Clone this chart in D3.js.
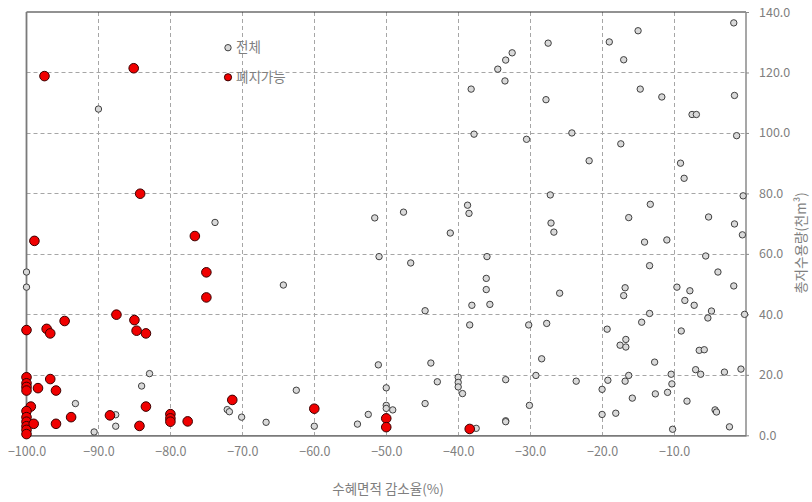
<!DOCTYPE html>
<html>
<head>
<meta charset="utf-8">
<script src="https://cdn.jsdelivr.net/npm/d3@7"></script>
<style>
  html, body { margin: 0; padding: 0; background: #fff; }
  svg { display: block; }
  text { font-family: "Noto Sans CJK KR", "Noto Sans", sans-serif; }
</style>
</head>
<body>
<svg id="chart" width="812" height="502"></svg>
<script>
// 수혜면적 감소율(%) vs 총저수용량(천m³)
const allPoints = [
  [-90.0,107.9],[-73.8,70.4],[-100,54.0],[-100,49.0],[-82.9,20.4],[-84.0,16.3],[-93.2,10.5],
  [-87.6,6.8],[-72.1,8.5],[-71.8,7.8],[-70.1,6.0],[-66.7,4.3],[-87.6,3.0],[-90.6,1.1],
  [-32.5,126.5],[-33.4,124.1],[-34.5,121.1],[-33.5,117.2],[-38.2,114.5],[-37.8,99.6],[-30.5,97.9],
  [-51.6,71.9],[-47.6,73.8],[-38.7,76.1],[-38.5,73.4],[-41.1,66.9],
  [-51.0,59.1],[-46.6,57.0],[-36.0,59.1],[-64.3,49.7],[-36.1,51.9],[-36.1,48.2],[-38.1,43.0],
  [-35.6,43.3],[-44.6,41.2],[-38.4,36.5],[-30.2,36.5],[-51.1,23.3],[-43.8,23.9],[-40.0,19.2],
  [-40.0,17.5],[-40.0,16.0],[-39.4,13.8],[-42.9,17.7],[-33.4,18.4],[-29.2,19.8],[-28.4,25.3],
  [-62.5,14.9],[-50.0,15.7],[-50.0,9.9],[-50.0,8.9],[-49.1,8.4],[-44.6,10.5],[-52.5,6.9],
  [-54.0,3.7],[-60.0,3.0],[-37.5,2.3],[-33.4,4.8],[-33.4,4.5],[-30.1,9.9],
  [-27.5,129.7],[-19.0,130.1],[-15.0,133.8],[-17.0,124.2],[-1.7,136.4],[-27.8,111.0],[-14.7,114.5],
  [-11.7,111.9],[-1.6,112.4],[-7.5,106.1],[-6.9,106.1],[-24.2,100.0],[-1.3,99.1],[-17.4,96.4],
  [-21.8,90.8],[-9.1,90.0],[-8.6,85.0],[-27.2,79.5],[-0.4,79.2],[-13.3,76.4],[-16.3,72.0],
  [-5.2,72.2],[-27.1,70.2],[-1.6,69.9],[-26.7,67.2],[-0.5,66.3],[-14.1,63.9],[-11.0,64.6],
  [-5.6,59.3],[-13.4,56.1],[-3.9,54.0],[-25.9,47.0],[-16.8,48.8],[-17.0,46.2],[-9.6,49.0],
  [-7.8,47.8],[-1.7,49.4],[-8.5,44.6],[-7.2,43.0],[-4.8,41.1],[-5.3,38.8],[-0.2,40.0],
  [-13.4,40.3],[-27.7,37.0],[-14.5,37.4],[-19.3,35.1],[-9.0,34.5],[-16.7,31.7],[-17.5,29.8],
  [-16.7,29.2],[-6.5,28.1],[-5.8,28.3],[-12.7,24.2],[-7.0,21.7],[-6.3,20.2],[-3.0,20.9],
  [-0.7,21.9],[-10.4,20.2],[-10.3,17.0],[-16.3,19.8],[-19.2,18.2],[-16.8,17.9],[-23.6,17.9],
  [-20.0,15.2],[-15.8,12.3],[-12.6,13.7],[-10.9,14.2],[-8.2,11.3],[-20.0,6.9],[-18.1,7.3],
  [-4.3,8.4],[-4.1,7.7],[-2.3,2.8],[-10.2,2.0]
];

const removablePoints = [
  [-97.5,118.8],[-85.1,121.4],[-84.2,79.9],[-76.6,65.9],[-98.9,64.3],[-75.0,53.9],[-75.0,45.6],
  [-87.5,39.9],[-94.7,37.8],[-85.0,38.1],[-100,34.8],[-97.2,35.2],[-96.7,33.7],[-84.7,34.6],
  [-83.4,33.7],[-100,19.2],[-100,17.2],[-100,16.0],[-100,14.8],[-96.7,18.6],[-98.4,15.6],
  [-95.9,14.8],[-83.4,9.5],[-99.4,9.5],[-100,8.0],[-100,6.0],[-100,4.5],[-100,3.0],[-100,1.8],
  [-100,0.4],[-88.4,6.6],[-93.8,6.0],[-80.0,7.0],[-80.0,5.6],[-80.0,4.5],[-77.6,4.6],
  [-71.4,11.7],[-99.0,3.8],[-95.9,3.8],[-84.3,3.1],[-60.0,8.8],[-50.0,5.6],[-50.0,2.7],[-38.4,2.1]
];

const xTicks = [-100, -90, -80, -70, -60, -50, -40, -30, -20, -10];
const yTicks = [0, 20, 40, 60, 80, 100, 120, 140];
const legendLabels = ["전체", "폐지가능"];
const xTitle = "수혜면적 감소율(%)";
const yTitle = "총저수용량(천m³)";

const svg = d3.select("#chart");
const plotLeft = 26.5, plotRight = 746, plotTop = 12, plotBottom = 435.3;

const x = d3.scaleLinear().domain([-100, 0]).range([plotLeft, plotRight]);
const y = d3.scaleLinear().domain([0, 140]).range([plotBottom, plotTop]);

const labelColor = "#7f7f7f";

// grid
const grid = svg.append("g").attr("stroke", "#a6a6a6").attr("stroke-width", 1)
  .attr("stroke-dasharray", "4,3").attr("fill", "none");
grid.selectAll("line.vx").data(xTicks.filter(d => d > -100)).join("line")
  .attr("x1", d => Math.round(x(d)) + 0.5).attr("x2", d => Math.round(x(d)) + 0.5)
  .attr("y1", plotTop).attr("y2", plotBottom);
grid.selectAll("line.hy").data(yTicks.filter(d => d > 0 && d < 140)).join("line")
  .attr("y1", d => Math.round(y(d)) + 0.5).attr("y2", d => Math.round(y(d)) + 0.5)
  .attr("x1", plotLeft).attr("x2", plotRight);

// frame
svg.append("line").attr("x1", plotLeft).attr("x2", plotRight).attr("y1", plotTop).attr("y2", plotTop)
  .attr("stroke", "#262626").attr("stroke-width", 1.2);
svg.append("line").attr("x1", plotLeft).attr("x2", plotLeft).attr("y1", plotTop).attr("y2", plotBottom)
  .attr("stroke", "#7a7a7a").attr("stroke-width", 1.8);
svg.append("line").attr("x1", plotRight).attr("x2", plotRight).attr("y1", plotTop).attr("y2", plotBottom)
  .attr("stroke", "#8a8a8a").attr("stroke-width", 1.5);

// x axis
const xAxis = svg.append("g").attr("transform", `translate(0,${plotBottom})`)
  .call(d3.axisBottom(x).tickValues(xTicks).tickFormat(d3.format(".1f")).tickSize(0).tickPadding(12));
xAxis.select(".domain").attr("stroke", "#7a7a7a").attr("stroke-width", 1.8);
xAxis.selectAll("text").attr("fill", labelColor).attr("font-size", 12.5)
  .style("font-family", '"Noto Sans CJK KR", sans-serif');

// y axis on the right
const yAxis = svg.append("g").attr("transform", `translate(${plotRight},0)`)
  .call(d3.axisRight(y).tickValues(yTicks).tickFormat(d3.format(".1f")).tickSize(3).tickPadding(10));
yAxis.select(".domain").remove();
yAxis.selectAll("line").attr("stroke", "#8a8a8a");
yAxis.selectAll("text").attr("fill", labelColor).attr("font-size", 12.5)
  .style("font-family", '"Noto Sans CJK KR", sans-serif');

// axis titles
svg.append("text").attr("x", 388).attr("y", 494).attr("text-anchor", "middle")
  .attr("fill", labelColor).attr("font-size", 13.5).text(xTitle);
svg.append("text").attr("transform", "translate(806,243) rotate(-90)")
  .attr("text-anchor", "middle").attr("fill", labelColor).attr("font-size", 13.5)
  .text(yTitle);

// points
svg.append("g").selectAll("circle").data(allPoints).join("circle")
  .attr("cx", d => x(d[0])).attr("cy", d => y(d[1])).attr("r", 3.2)
  .attr("fill", "#d9d9d9").attr("stroke", "#404040").attr("stroke-width", 1);
svg.append("g").selectAll("circle").data(removablePoints).join("circle")
  .attr("cx", d => x(d[0])).attr("cy", d => y(d[1])).attr("r", 4.8)
  .attr("fill", "#f00000").attr("stroke", "#3a0000").attr("stroke-width", 1);

// legend
const legend = svg.append("g");
const legendStyles = [
  { fill: "#d9d9d9", stroke: "#404040", r: 3.2 },
  { fill: "#f00000", stroke: "#3a0000", r: 3.6 }
];
legendLabels.forEach((label, i) => {
  const ly = 47.7 + i * 29.6;
  legend.append("circle").attr("cx", 228).attr("cy", ly).attr("r", legendStyles[i].r)
    .attr("fill", legendStyles[i].fill).attr("stroke", legendStyles[i].stroke);
  legend.append("text").attr("x", 236).attr("y", ly).attr("dy", "0.35em")
    .attr("fill", labelColor).attr("font-size", 13.5).text(label);
});
</script>
</body>
</html>
